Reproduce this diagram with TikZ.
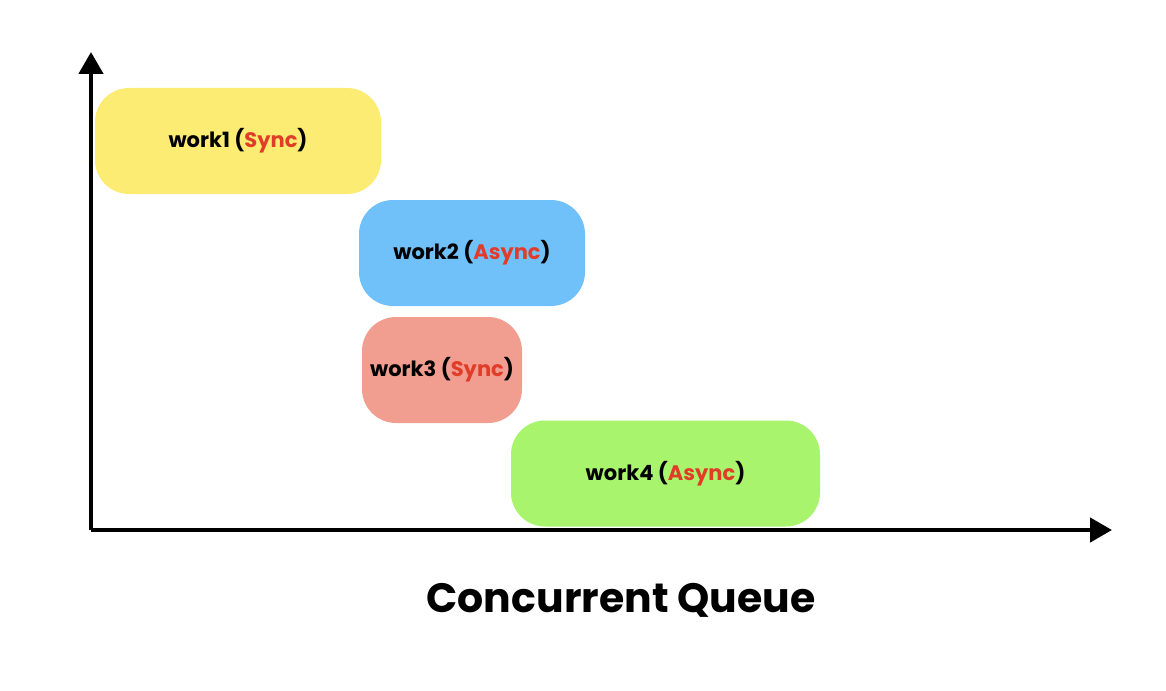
\documentclass[tikz,border=0pt]{standalone}
\usepackage{fontspec}
\setmainfont{Poppins}[BoldFont={* Bold}]
\usetikzlibrary{arrows.meta}
\definecolor{cyellow}{HTML}{FCEC73}
\definecolor{cblue}{HTML}{70C1FA}
\definecolor{csalmon}{HTML}{F19D90}
\definecolor{cgreen}{HTML}{A8F56D}
\definecolor{cred}{HTML}{E03C28}
\tikzset{
  workbox/.style={rectangle, rounded corners=34pt, draw=none, inner sep=0pt,
    minimum height=106pt, font=\bfseries\fontsize{21}{24}\selectfont, text=black},
  axis/.style={line width=4.5pt, -{Triangle[length=22pt,width=24pt]}},
  title/.style={font=\bfseries\fontsize{41}{46}\selectfont, inner sep=0pt}
}
\newcommand{\hl}[1]{\textcolor{cred}{#1}}
\begin{document}
\begin{tikzpicture}[x=1pt,y=-1pt]
\useasboundingbox (0,0) rectangle (1166,690);
\coordinate (origin) at (91,530);
\coordinate (ytip) at (91,52);
\coordinate (xtip) at (1112,530);
\node[workbox, fill=cyellow, minimum width=286pt] (w1) at (238,141) {work1 (\hl{Sync})};
\node[workbox, fill=cblue, minimum width=226pt] (w2) at (472,253) {work2 (\hl{Async})};
\node[workbox, fill=csalmon, minimum width=160pt] (w3) at (442,370) {work3 (\hl{Sync})};
\node[workbox, fill=cgreen, minimum width=309pt] (w4) at (665.5,473.5) {work4 (\hl{Async})};
\draw[axis] (origin) -- (ytip);
\draw[axis] (origin) -- (xtip);
\node[title] (t) at (621,600) {Concurrent Queue};
\end{tikzpicture}
\end{document}
